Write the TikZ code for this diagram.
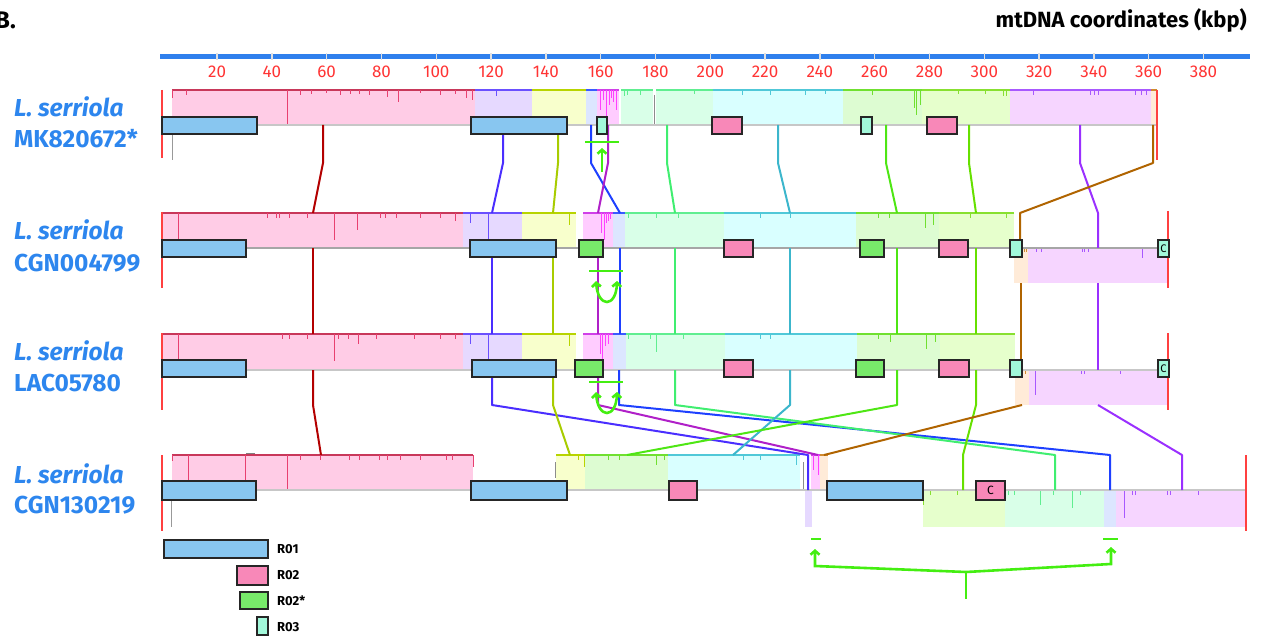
\documentclass[tikz,border=0pt]{standalone}
\usepackage{fontspec}
\setmainfont{Fira Sans}
\usetikzlibrary{arrows.meta}
\definecolor{rulerblue}{HTML}{2F80ED}
\definecolor{numred}{HTML}{FF3434}
\definecolor{lblue}{HTML}{2D86EE}
\definecolor{endred}{HTML}{FF4040}
\definecolor{anngreen}{HTML}{44EE11}
% LCB colours: c = connector, b = border, f = fill, t = ticks
\definecolor{cA}{HTML}{B30000}\definecolor{bA}{HTML}{C8385A}\definecolor{fA}{HTML}{FFCCE6}\definecolor{tA}{HTML}{E84070}
\definecolor{cB}{HTML}{4A2EFF}\definecolor{bB}{HTML}{6A50FF}\definecolor{fB}{HTML}{E6D9FF}
\definecolor{cC}{HTML}{A8CC00}\definecolor{bC}{HTML}{B8D400}\definecolor{fC}{HTML}{F8FFCC}
\definecolor{cD}{HTML}{1E40FF}\definecolor{bD}{HTML}{3A5AFF}\definecolor{fD}{HTML}{DCE6FF}
\definecolor{cE}{HTML}{B020C8}\definecolor{bE}{HTML}{D040E8}\definecolor{fE}{HTML}{FFCCFF}\definecolor{tE}{HTML}{FF40FF}
\definecolor{cF}{HTML}{40EE70}\definecolor{bF}{HTML}{60EE90}\definecolor{fF}{HTML}{D9FFE8}
\definecolor{cG}{HTML}{3CB6CC}\definecolor{bG}{HTML}{50C8D8}\definecolor{fG}{HTML}{D9FFFF}
\definecolor{cH}{HTML}{4EE614}\definecolor{bH}{HTML}{70E030}\definecolor{fH}{HTML}{DDFCD2}
\definecolor{cI}{HTML}{66E000}\definecolor{bI}{HTML}{88E030}\definecolor{fI}{HTML}{E6FFCC}
\definecolor{cJ}{HTML}{9A30FF}\definecolor{bJ}{HTML}{A858FF}\definecolor{fJ}{HTML}{F6D5FF}
\definecolor{cK}{HTML}{B06400}\definecolor{bK}{HTML}{D08A30}\definecolor{fK}{HTML}{FFEBD8}
\definecolor{featblue}{HTML}{88C6F0}
\definecolor{featpink}{HTML}{F888B8}
\definecolor{featgreen}{HTML}{78EA6A}
\definecolor{featmint}{HTML}{A2F8DA}
\newcommand{\lcbblock}[6]{\fill[#5] (#1,#3) rectangle (#2,#4); \draw[#6,line width=1.3pt] (#1,#3)--(#2,#3);}
\newcommand{\simticks}[3]{\foreach \a/\b in {#3} {\draw[#1,line width=0.8pt] (\a,#2)--(\a,#2+\b);}}
\newcommand{\featbox}[5]{\draw[fbox,fill=#5] (#1,#2) rectangle (#3,#4);}
\begin{document}
\begin{tikzpicture}[x=1pt,y=-1pt,
  conn/.style={line width=2pt,line join=round},
  fbox/.style={draw=black!85,line width=1.1pt},
  ann/.style={draw=anngreen,line width=2.6pt},
  barb/.tip={Straight Barb[length=4pt,width=9pt]},
  endline/.style={endred,line width=1.2pt},
  centerline/.style={black!22,line width=2.5pt},
  gname/.style={anchor=base west,inner sep=0pt,text=lblue,font=\fontsize{24.5}{24.5}\selectfont\bfseries},
  legtext/.style={anchor=base west,inner sep=0pt,font=\fontsize{13}{13}\selectfont\bfseries}]
\useasboundingbox (0,0) rectangle (1261,639);
% title and panel letter
\node[anchor=base east,inner sep=0pt,font=\fontsize{24}{24}\selectfont\bfseries] (panel) at (16,29) {B.};
\node[anchor=base east,inner sep=0pt,font=\fontsize{22}{22}\selectfont\bfseries] (title) at (1247,28) {mtDNA coordinates (kbp)};
% ruler
\draw[rulerblue,line width=5pt] (160,56.5)--(1250,56.5);
\foreach \k in {20,40,...,380} {
  \pgfmathsetmacro\xx{162.3+2.74*\k}
  \draw[black!12,line width=1.5pt] (\xx,53)--(\xx,60);
  \node[anchor=base,inner sep=0pt,text=numred,font=\fontsize{17}{17}\selectfont] at (\xx,78) {\k};
}
% ---------------- Row 1 ----------------
\lcbblock{172}{475}{90}{125}{fA}{bA}
\lcbblock{475}{532}{90}{125}{fB}{bB}
\lcbblock{532}{586}{90}{125}{fC}{bC}
\lcbblock{586}{597}{90}{125}{fD}{bD}
\lcbblock{597}{619}{90}{125}{fE}{bE}
\lcbblock{621}{653}{90}{125}{fF}{bF}
\lcbblock{656}{713}{90}{125}{fF}{bF}
\lcbblock{713}{843}{90}{125}{fG}{bG}
\lcbblock{843}{922}{90}{125}{fH}{bH}
\lcbblock{922}{1010}{90}{125}{fI}{bI}
\lcbblock{1010}{1151}{90}{125}{fJ}{bJ}
\lcbblock{1151}{1157}{90}{125}{fK}{bK}
\simticks{tA}{90}{172/8,186/5,287/35,300/5,311/4,326/3,340/5,350/4,359/4,369/5,387/7,398/12,420/3,440/5,455/4,466/8,472/10}
\simticks{bB}{90}{496/6}
\simticks{tE}{90}{600/20,603/10,606/35,609/15,611/8,613/12,616/20}
\simticks{bF}{90}{624/6,627/5,640/5,694/4}
\simticks{bG}{90}{742/5,770/5,805/5,825/4}
\simticks{bH}{90}{872/5,914/18,916/25,920/15}
\simticks{bI}{90}{958/4,985/4,1003/6,1006/6}
\simticks{bJ}{90}{1033/5,1090/5,1094/5,1098/5,1135/5,1141/5,1146/5}
\draw[black!45,line width=1pt] (654.5,95)--(654.5,125);
\draw[centerline] (162,125)--(1157,125);
% ---------------- Row 2 ----------------
\lcbblock{162}{463}{213}{248}{fA}{bA}
\lcbblock{463}{522}{213}{248}{fB}{bB}
\lcbblock{522}{576}{213}{248}{fC}{bC}
\lcbblock{583}{613}{213}{248}{fE}{bE}
\lcbblock{613}{625}{213}{248}{fD}{bD}
\lcbblock{625}{724}{213}{248}{fF}{bF}
\lcbblock{724}{856}{213}{248}{fG}{bG}
\lcbblock{856}{939}{213}{248}{fH}{bH}
\lcbblock{939}{1014}{213}{248}{fI}{bI}
\lcbblock{1014}{1028}{248}{283}{fK}{bK}
\lcbblock{1028}{1168}{248}{283}{fJ}{bJ}
\simticks{tA}{213}{178/27,267/5,276/5,279/5,289/5,307/5,334/27,357/17,380/5,385/5,396/5,420/5,440/5,455/8}
\simticks{bB}{213}{470/10,488/28}
\simticks{bC}{213}{569/12}
\simticks{tE}{213}{601/20,604/27,606/10,608/8,610/6}
\simticks{bF}{213}{628/5,656/5,678/5}
\simticks{bG}{213}{760/5,790/5}
\simticks{bH}{213}{878/5,889/5,925/15,933/12}
\simticks{bI}{213}{970/5,1006/5}
\simticks{bJ}{248}{1036/4,1041/4,1082/4,1084/4,1088/4,1142/10}
\simticks{bK}{248}{1024/4,1026/4}
\draw[black!35,line width=2pt] (162,248)--(1168,248);
% ---------------- Row 3 ----------------
\lcbblock{162}{463}{334}{370}{fA}{bA}
\lcbblock{463}{522}{334}{370}{fB}{bB}
\lcbblock{522}{576}{334}{370}{fC}{bC}
\lcbblock{583}{613}{334}{370}{fE}{bE}
\lcbblock{613}{626}{334}{370}{fD}{bD}
\lcbblock{626}{725}{334}{370}{fF}{bF}
\lcbblock{725}{857}{334}{370}{fG}{bG}
\lcbblock{857}{940}{334}{370}{fH}{bH}
\lcbblock{940}{1015}{334}{370}{fI}{bI}
\lcbblock{1015}{1029}{370}{405}{fK}{bK}
\lcbblock{1029}{1168}{370}{405}{fJ}{bJ}
\simticks{tA}{334}{178/27,282/5,289/5,307/5,334/27,338/5,348/5,358/10,376/5,414/5,440/5,455/5}
\simticks{bB}{334}{470/10,488/26}
\simticks{bC}{334}{569/12}
\simticks{tE}{334}{600/20,602/25,605/12,608/10}
\simticks{bF}{334}{628/5,650/5,656/18,683/5}
\simticks{bG}{334}{760/5,770/5}
\simticks{bH}{334}{878/5,890/8,926/15,935/8}
\simticks{bJ}{370}{1035/25,1081/4,1084/4,1120/4}
\simticks{bK}{370}{1022/4,1025/4}
\draw[centerline] (162,370)--(1168,370);
% ---------------- Row 4 ----------------
\lcbblock{172}{473}{455}{490}{fA}{bA}
\lcbblock{556}{585}{455}{490}{fC}{bC}
\lcbblock{585}{668}{455}{490}{fH}{bH}
\lcbblock{668}{800}{455}{490}{fG}{bG}
\lcbblock{805}{812}{490}{527}{fB}{bB}
\lcbblock{811}{820}{455}{490}{fE}{bE}
\lcbblock{820}{828}{455}{490}{fK}{bK}
\lcbblock{923}{1005}{490}{527}{fI}{bI}
\lcbblock{1005}{1104}{490}{527}{fF}{bF}
\lcbblock{1104}{1116}{490}{527}{fD}{bD}
\lcbblock{1116}{1246}{490}{527}{fJ}{bJ}
\simticks{tA}{455}{172/6,188/26,245/35,287/35,300/5,320/5,349/5,359/5,379/5,387/5,400/5,420/5,446/5,452/5,473/12}
\simticks{bC}{455}{578/5,584/12}
\simticks{bH}{455}{608/5,619/5,656/10,664/5}
\simticks{bG}{455}{743/5,760/5,796/10}
\simticks{tE}{455}{813/15,818/20}
\simticks{bI}{490}{923/15,930/5,957/5,976/5}
\simticks{bF}{490}{1008/5,1014/5,1040/15,1053/5,1072/18,1080/5}
\simticks{bJ}{490}{1124/28,1132/5,1135/5,1167/5,1170/5,1198/5}
\draw[black!45,line width=1pt] (555,462)--(555,478);
\draw[black!45,line width=1pt] (803,462)--(803,490);
\draw[black!50,line width=1pt] (246,453)--(255,453);
\draw[centerline] (162,490)--(1246,490);
% ---------------- connectors ----------------
% row 1 -> row 2
\draw[conn,cA] (323,125)--(323,163)--(313,213);
\draw[conn,cB] (503,125)--(503,163)--(492,213);
\draw[conn,cC] (558,125)--(558,163)--(553,213);
\draw[conn,cD] (591,125)--(591,163)--(620,213);
\draw[conn,cE] (608,125)--(608,163)--(598,213);
\draw[conn,cF] (667,125)--(667,163)--(675,213);
\draw[conn,cG] (778,125)--(778,163)--(790,213);
\draw[conn,cH] (886,125)--(886,163)--(897,213);
\draw[conn,cI] (969,125)--(969,163)--(976,213);
\draw[conn,cJ] (1080,125)--(1080,163)--(1098,213)--(1098,248);
\draw[conn,cK] (1153,125)--(1153,163)--(1020,213)--(1020,248);
% row 2 -> row 3
\draw[conn,cA] (313,248)--(313,334);
\draw[conn,cB] (492,248)--(492,334);
\draw[conn,cC] (553,248)--(553,334);
\draw[conn,cE] (598,248)--(598,334);
\draw[conn,cD] (620,248)--(620,334);
\draw[conn,cF] (675,248)--(675,334);
\draw[conn,cG] (790,248)--(790,334);
\draw[conn,cH] (897,248)--(897,334);
\draw[conn,cI] (976,248)--(976,334);
\draw[conn,cK] (1021,283)--(1021,370);
\draw[conn,cJ] (1098,283)--(1098,370);
% row 3 -> row 4
\draw[conn,cA] (313,370)--(313,405)--(321,455);
\draw[conn,cB] (492,370)--(492,405)--(808,455)--(808,490);
\draw[conn,cC] (553,370)--(553,405)--(570,455);
\draw[conn,cE] (598,370)--(598,405)--(818,455);
\draw[conn,cD] (619,370)--(619,405)--(1110,455)--(1110,490);
\draw[conn,cF] (675,370)--(675,405)--(1055,455)--(1055,490);
\draw[conn,cG] (790,370)--(790,405)--(733,455);
\draw[conn,cH] (897,370)--(897,405)--(627,455);
\draw[conn,cI] (976,370)--(976,405)--(963,455)--(963,490);
\draw[conn,cJ] (1098,405)--(1182,455)--(1182,490);
\draw[conn,cK] (1022,405)--(824,455);
% ---------------- end markers ----------------
\draw[black!40,line width=1pt] (172,125)--(172,160);
\draw[black!40,line width=1pt] (171,490)--(171,527);
\draw[endline] (162,90)--(162,158);
\draw[endline] (1157,90)--(1157,160);
\draw[endline] (162,212)--(162,288);
\draw[endline] (1168,211)--(1168,288);
\draw[endline] (162,333)--(162,410);
\draw[endline] (1168,333)--(1168,410);
\draw[endline] (162,455)--(162,531);
\draw[endline] (1246,455)--(1246,531);
% ---------------- feature boxes ----------------
% row 1
\featbox{162}{117}{257}{134}{featblue}
\featbox{471}{117}{567}{134}{featblue}
\featbox{597}{117}{607}{134}{featmint}
\featbox{712}{117}{742}{134}{featpink}
\featbox{861}{117}{872}{134}{featmint}
\featbox{927}{117}{957}{134}{featpink}
% row 2
\featbox{162}{240}{246}{257}{featblue}
\featbox{470}{240}{556}{257}{featblue}
\featbox{579}{240}{603}{257}{featgreen}
\featbox{724}{240}{753}{257}{featpink}
\featbox{860}{240}{884}{257}{featgreen}
\featbox{939}{240}{968}{257}{featpink}
\featbox{1010}{240}{1022}{257}{featmint}
\node[fbox,fill=featmint,minimum width=11pt,minimum height=17pt,inner sep=0pt,font=\fontsize{11}{11}\selectfont] (c2) at (1163.5,248.5) {C};
% row 3
\featbox{162}{360}{246}{377}{featblue}
\featbox{472}{360}{556}{377}{featblue}
\featbox{575}{360}{603}{377}{featgreen}
\featbox{724}{360}{753}{377}{featpink}
\featbox{856}{360}{884}{377}{featgreen}
\featbox{939}{360}{969}{377}{featpink}
\featbox{1010}{360}{1022}{377}{featmint}
\node[fbox,fill=featmint,minimum width=11pt,minimum height=17pt,inner sep=0pt,font=\fontsize{11}{11}\selectfont] (c3) at (1163.5,368.5) {C};
% row 4
\featbox{162}{481}{256}{500}{featblue}
\featbox{471}{481}{567}{500}{featblue}
\featbox{669}{481}{697}{500}{featpink}
\featbox{827}{481}{923}{500}{featblue}
\node[fbox,fill=featpink,minimum width=29pt,minimum height=19pt,inner sep=0pt,font=\fontsize{12}{12}\selectfont] (c4) at (990.5,490.5) {C};
% ---------------- rearrangement annotations ----------------
\draw[ann] (585,142)--(619,142);
\draw[ann,-barb] (602,172)--(602,148);
\draw[ann] (589,271)--(623,271);
\draw[ann,barb-barb] (596,281) .. controls (598,308) and (616,308) .. (617,281);
\draw[ann] (589,382)--(623,382);
\draw[ann,barb-barb] (596,392) .. controls (598,419) and (616,419) .. (617,392);
\draw[ann] (811,539)--(821,539);
\draw[ann] (1103,539)--(1118,539);
\draw[ann,barb-barb,line join=miter] (815,549)--(815,566)--(966,572)--(1111,564)--(1111,547);
\draw[ann] (966,572)--(966,599);
% ---------------- genome names ----------------
\node[gname] (n1a) at (14,117) {\itshape L. serriola};
\node[gname] (n1b) at (14,148) {MK820672*};
\node[gname] (n2a) at (14,240) {\itshape L. serriola};
\node[gname] (n2b) at (14,271) {CGN004799};
\node[gname] (n3a) at (14,360) {\itshape L. serriola};
\node[gname] (n3b) at (14,391) {LAC05780};
\node[gname] (n4a) at (14,483) {\itshape L. serriola};
\node[gname] (n4b) at (14,513) {CGN130219};
% ---------------- legend ----------------
\featbox{164}{540}{268}{558}{featblue}
\featbox{237}{566}{268}{585}{featpink}
\featbox{240}{592}{268}{609}{featgreen}
\featbox{257}{617}{268}{635}{featmint}
\node[legtext] (l1) at (277,553) {R01};
\node[legtext] (l2) at (277,579) {R02};
\node[legtext] (l3) at (277,605) {R02*};
\node[legtext] (l4) at (277,631) {R03};
\end{tikzpicture}
\end{document}
